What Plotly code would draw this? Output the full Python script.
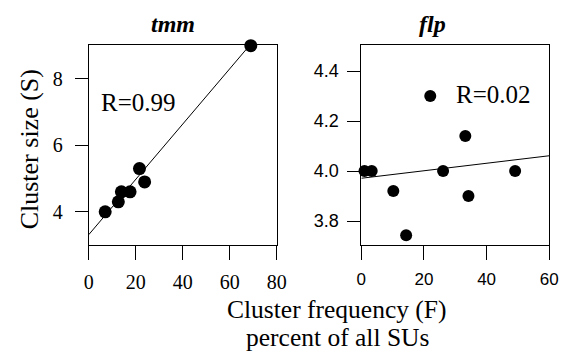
import plotly.graph_objects as go

W, H = 569, 353

# --- data ---
tmm_freq = [7, 12.6, 13.9, 17.6, 21.6, 23.8, 69]
tmm_size = [4.0, 4.3, 4.6, 4.6, 5.3, 4.9, 9.0]
tmm_fit = [3.31, 0.0832]  # intercept, slope

flp_freq = [1.0, 3.3, 10.2, 14.3, 22.0, 26.1, 33.2, 34.2, 49.1]
flp_size = [4.0, 4.0, 3.92, 3.743, 4.30, 4.0, 4.14, 3.90, 4.0]
flp_fit = [3.971, 0.0015]

tmm_xticks = [0, 20, 40, 60, 80]
tmm_yticks = [4, 6, 8]
flp_xticks = [0, 20, 40, 60]
flp_yticks = [3.8, 4.0, 4.2, 4.4]

titles = ["tmm", "flp"]
r_labels = ["R=0.99", "R=0.02"]

SERIF = "Liberation Serif, Times New Roman, serif"
SANS = "Liberation Sans, Arial, sans-serif"

def px(x):
    return x / W

def py(y):
    return 1 - y / H

fig = go.Figure()

# tmm panel
fig.add_trace(go.Scatter(x=tmm_freq, y=tmm_size, mode="markers",
                         marker=dict(size=13, color="black"), cliponaxis=False,
                         xaxis="x", yaxis="y", showlegend=False))
lx = [0, 80]
fig.add_trace(go.Scatter(x=lx, y=[tmm_fit[0] + tmm_fit[1] * v for v in lx], mode="lines",
                         line=dict(color="black", width=1), xaxis="x", yaxis="y",
                         showlegend=False))

# flp panel
fig.add_trace(go.Scatter(x=flp_freq, y=flp_size, mode="markers",
                         marker=dict(size=12, color="black"), cliponaxis=False,
                         xaxis="x2", yaxis="y2", showlegend=False))
lx2 = [0, 60]
fig.add_trace(go.Scatter(x=lx2, y=[flp_fit[0] + flp_fit[1] * v for v in lx2], mode="lines",
                         line=dict(color="black", width=1), xaxis="x2", yaxis="y2",
                         showlegend=False))

ydom = [py(245), py(45)]
common = dict(showline=True, mirror=True, linecolor="black", linewidth=1,
              ticks="outside", tickcolor="black", tickwidth=1,
              showgrid=False, zeroline=False)

fig.update_layout(
    width=W, height=H,
    margin=dict(l=0, r=0, t=0, b=0),
    font=dict(family=SERIF, color="black"),
    paper_bgcolor="white", plot_bgcolor="white",
    xaxis=dict(domain=[px(86), px(279)], range=[0, 80], tickvals=tmm_xticks,
               ticklen=14, ticklabelstandoff=5, anchor="y",
               tickfont=dict(family=SERIF, size=20, color="black"), **common),
    yaxis=dict(domain=ydom, range=[3.0, 9.02], tickvals=tmm_yticks,
               ticklen=13, ticklabelstandoff=8, anchor="x",
               tickfont=dict(family=SERIF, size=20, color="black"), **common),
    xaxis2=dict(domain=[px(366), px(559)], range=[0, 60], tickvals=flp_xticks,
                ticklen=14, ticklabelstandoff=5, anchor="y2",
                tickfont=dict(family=SANS, size=17, color="black"), **common),
    yaxis2=dict(domain=ydom, range=[3.704, 4.504], tickvals=flp_yticks, tickformat=".1f",
                ticklen=13, ticklabelstandoff=5, anchor="x2",
                tickfont=dict(family=SANS, size=18, color="black"), **common),
)

ann = []
# panel titles
for t, cx in zip(titles, [173, 439.5]):
    ann.append(dict(text=f"<b><i>{t}</i></b>", x=px(cx), y=py(24), xref="paper", yref="paper",
                    xanchor="center", yanchor="middle", showarrow=False,
                    font=dict(family=SERIF, size=24, color="black")))
# R labels
for t, (lx_, ly_) in zip(r_labels, [(97, 103), (461.5, 95)]):
    ann.append(dict(text=t, x=px(lx_), y=py(ly_), xref="paper", yref="paper",
                    xanchor="left", yanchor="middle", showarrow=False,
                    font=dict(family=SERIF, size=25, color="black")))
# axis titles
ann.append(dict(text="Cluster frequency (F)", x=px(341.5), y=py(309.5), xref="paper", yref="paper",
                xanchor="center", yanchor="middle", showarrow=False,
                font=dict(family=SERIF, size=25.5, color="black")))
ann.append(dict(text="percent of all SUs", x=px(341), y=py(337.5), xref="paper", yref="paper",
                xanchor="center", yanchor="middle", showarrow=False,
                font=dict(family=SERIF, size=25.5, color="black")))
ann.append(dict(text="Cluster size (S)", x=px(25), y=py(149), xref="paper", yref="paper",
                xanchor="center", yanchor="middle", textangle=-90, showarrow=False,
                font=dict(family=SERIF, size=26, color="black")))
fig.update_layout(annotations=ann)

fig.write_html("out.html", config={"displayModeBar": False},
               post_script="document.body.style.margin='0';document.body.style.padding='0';"
                           "document.documentElement.style.overflow='hidden';")
